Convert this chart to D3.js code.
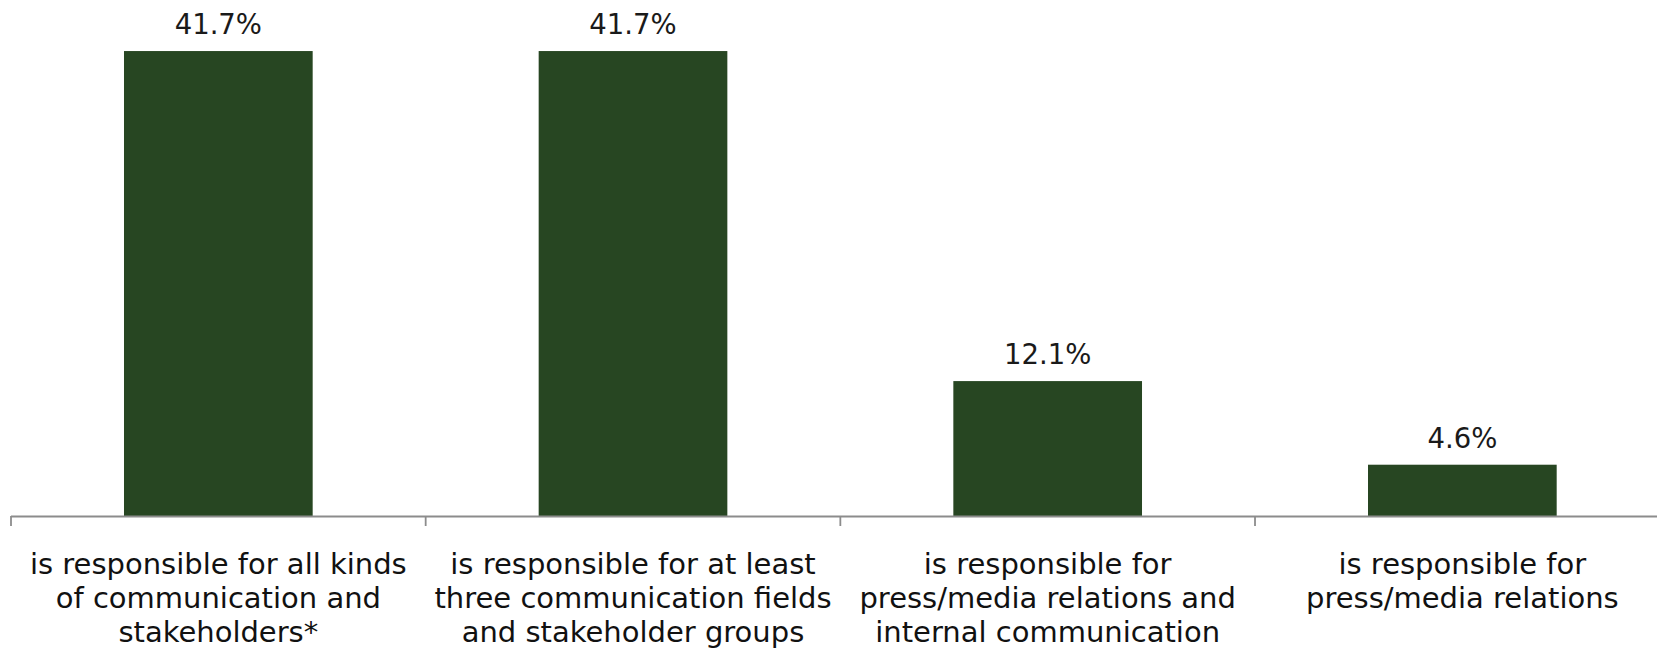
<!DOCTYPE html>
<html>
<head>
<meta charset="utf-8">
<script src="https://cdn.jsdelivr.net/npm/d3@7"></script>
<style>
  html, body { margin: 0; padding: 0; background: #ffffff; }
  svg { display: block; }
</style>
</head>
<body>
<svg id="chart" width="1657" height="648"></svg>
<script>
const categories = [
  "all kinds of communication and stakeholders*",
  "at least three communication fields and stakeholder groups",
  "press/media relations and internal communication",
  "press/media relations"
];
const categoryLines = [
  ["is responsible for all kinds", "of communication and", "stakeholders*"],
  ["is responsible for at least", "three communication fields", "and stakeholder groups"],
  ["is responsible for", "press/media relations and", "internal communication"],
  ["is responsible for", "press/media relations"]
];
const values = [41.7, 41.7, 12.1, 4.6];
const valueLabels = ["41.7%", "41.7%", "12.1%", "4.6%"];

const svg = d3.select("#chart");
const step = 414.67;
const left = 11;
const baseY = 516;

const x = d3.scaleBand()
  .domain(categories)
  .range([left, left + step * categories.length])
  .paddingInner(0.545)
  .paddingOuter(0.2725);

const y = d3.scaleLinear()
  .domain([0, 45])
  .range([baseY, baseY - 45 * 11.15]);

const font = "'DejaVu Sans', Verdana, sans-serif";

// bars
svg.append("g").selectAll("rect")
  .data(categories)
  .join("rect")
  .attr("x", d => x(d))
  .attr("width", x.bandwidth())
  .attr("y", (d, i) => y(values[i]))
  .attr("height", (d, i) => y(0) - y(values[i]))
  .attr("fill", "#274622");

// value labels
svg.append("g").selectAll("text")
  .data(categories)
  .join("text")
  .attr("x", d => x(d) + x.bandwidth() / 2)
  .attr("y", (d, i) => y(values[i]) - 17)
  .attr("text-anchor", "middle")
  .attr("font-family", font)
  .attr("font-size", "27.5px")
  .attr("fill", "#1a1a1a")
  .text((d, i) => valueLabels[i]);

// axis line and ticks
const axis = svg.append("g");
const pad = x.step() * x.paddingInner() / 2;
axis.append("line")
  .attr("x1", left).attr("x2", 1657)
  .attr("y1", y(0) + 0.5).attr("y2", y(0) + 0.5)
  .attr("stroke", "#8c8c8c").attr("stroke-width", 1.8);
axis.selectAll(".tick")
  .data(categories)
  .join("line")
  .attr("class", "tick")
  .attr("x1", d => x(d) - pad).attr("x2", d => x(d) - pad)
  .attr("y1", y(0)).attr("y2", y(0) + 10)
  .attr("stroke", "#8c8c8c").attr("stroke-width", 1.8);

// category labels
const lab = svg.append("g").selectAll("text")
  .data(categories)
  .join("text")
  .attr("text-anchor", "middle")
  .attr("font-family", font)
  .attr("font-size", "29px")
  .attr("fill", "#111111");
lab.each(function(d, i) {
  const t = d3.select(this);
  categoryLines[i].forEach((line, j) => {
    t.append("tspan")
      .attr("x", x(d) + x.bandwidth() / 2)
      .attr("y", 574 + j * 34)
      .text(line);
  });
});
</script>
</body>
</html>
